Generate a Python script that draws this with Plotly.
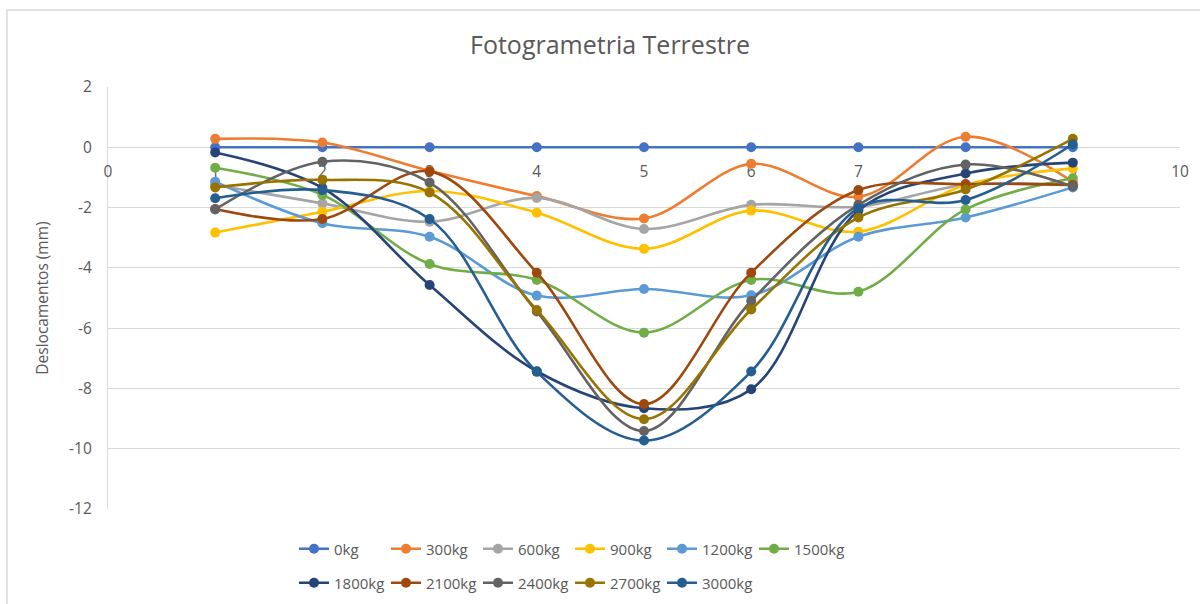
import plotly.graph_objects as go

# Load stages and measured points along the section
x_points = [1, 2, 3, 4, 5, 6, 7, 8, 9]
series_names = ["0kg", "300kg", "600kg", "900kg", "1200kg", "1500kg",
                "1800kg", "2100kg", "2400kg", "2700kg", "3000kg"]

# Displacements (mm) per load stage
d_0kg = [0, 0, 0, 0, 0, 0, 0, 0, 0]
d_300kg = [0.28, 0.16, -0.78, -1.62, -2.36, -0.55, -1.64, 0.35, -1.15]
d_600kg = [-1.25, -1.86, -2.47, -1.68, -2.71, -1.91, -1.97, -1.25, -1.25]
d_900kg = [-2.83, -2.14, -1.45, -2.17, -3.37, -2.10, -2.80, -1.25, -0.70]
d_1200kg = [-1.14, -2.52, -2.97, -4.92, -4.70, -4.91, -2.97, -2.33, -1.33]
d_1500kg = [-0.68, -1.58, -3.87, -4.40, -6.15, -4.40, -4.79, -2.06, -1.03]
d_1800kg = [-0.17, -1.35, -4.57, -7.43, -8.66, -8.03, -2.10, -0.87, -0.51]
d_2100kg = [-2.05, -2.38, -0.80, -4.16, -8.52, -4.16, -1.42, -1.22, -1.25]
d_2400kg = [-2.06, -0.48, -1.17, -5.45, -9.41, -5.10, -1.91, -0.57, -1.30]
d_2700kg = [-1.33, -1.08, -1.50, -5.40, -9.02, -5.38, -2.33, -1.40, 0.28]
d_3000kg = [-1.69, -1.42, -2.38, -7.45, -9.73, -7.44, -2.02, -1.75, 0.10]

series_values = [d_0kg, d_300kg, d_600kg, d_900kg, d_1200kg, d_1500kg,
                 d_1800kg, d_2100kg, d_2400kg, d_2700kg, d_3000kg]
series_colors = ["#4472C4", "#ED7D31", "#A5A5A5", "#FFC000", "#5B9BD5", "#70AD47",
                 "#264478", "#9E480E", "#636363", "#997300", "#255E91"]

x_ticks = list(range(0, 11))
y_ticks = list(range(-12, 3, 2))
y_tick_labels = [str(v) for v in y_ticks]

TEXT = "#595959"
GRID = "#D9D9D9"
FONT = "Open Sans"

fig = go.Figure()
for i, (name, vals, col) in enumerate(zip(series_names, series_values, series_colors)):
    fig.add_trace(go.Scatter(
        x=x_points, y=vals, name=name,
        mode="lines+markers",
        line=dict(color=col, width=2.6, shape="spline", smoothing=1.0),
        marker=dict(color=col, size=10),
        legend="legend" if i < 6 else "legend2",
    ))

W, H = 1200, 604
ml, mr, mt, mb = 108, 20, 87, 95
pw, ph = W - ml - mr, H - mt - mb

def px_x(p):
    return (p - ml) / pw

def px_y(p):
    return (H - mb - p) / ph

legend_common = dict(
    orientation="h", bgcolor="rgba(0,0,0,0)",
    font=dict(family=FONT, size=15, color=TEXT),
    xanchor="left", yanchor="middle",
    entrywidth=47, entrywidthmode="pixels",
    itemwidth=30, tracegroupgap=0,
)

fig.update_layout(
    width=W, height=H,
    margin=dict(l=ml, r=mr, t=mt, b=mb, autoexpand=False),
    paper_bgcolor="white", plot_bgcolor="white",
    font=dict(family=FONT, color=TEXT),
    title=dict(text="Fotogrametria Terrestre", x=610 / W, xref="container",
               xanchor="center", y=1 - 45 / H, yanchor="middle",
               font=dict(family=FONT, size=25, color=TEXT)),
    xaxis=dict(
        range=[0, 10], tickvals=x_ticks, showgrid=False,
        showline=True, linecolor=GRID, linewidth=1.3,
        anchor="free", position=12 / 14, zeroline=False,
        tickfont=dict(family=FONT, size=15.5, color=TEXT),
        ticks="", ticklabelstandoff=10, layer="below traces",
    ),
    yaxis=dict(
        range=[-12, 2], tickvals=y_ticks, ticktext=y_tick_labels, showgrid=True,
        gridcolor=GRID, gridwidth=1.3, zeroline=False,
        showline=True, linecolor=GRID, linewidth=1.3,
        tickfont=dict(family=FONT, size=15.5, color=TEXT),
        ticks="", ticklabelstandoff=12,
        title=dict(text="Deslocamentos (mm)", standoff=16,
                   font=dict(family=FONT, size=15.5, color=TEXT)),
        layer="below traces",
    ),
    legend=dict(x=px_x(294), y=px_y(549), **legend_common),
    legend2=dict(x=px_x(294), y=px_y(583), **legend_common),
    showlegend=True,
    shapes=[
        dict(type="line", xref="paper", yref="paper",
             x0=px_x(7), x1=px_x(7), y0=px_y(610), y1=px_y(10),
             line=dict(color=GRID, width=1.5)),
        dict(type="line", xref="paper", yref="paper",
             x0=px_x(7), x1=px_x(1210), y0=px_y(10), y1=px_y(10),
             line=dict(color=GRID, width=1.5)),
    ],
)

fig.write_html("out.html")
